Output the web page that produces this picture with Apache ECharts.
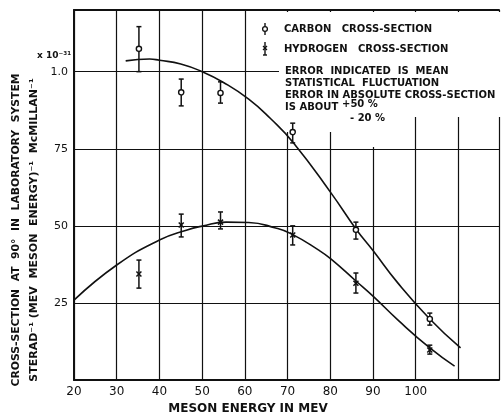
<!DOCTYPE html>
<html>
<head>
<meta charset="utf-8">
<script src="https://cdn.jsdelivr.net/npm/echarts@6/dist/echarts.min.js"></script>
<style>
  html, body { margin: 0; padding: 0; background: #fff; }
  #chart { width: 502px; height: 417px; }
</style>
</head>
<body>
<div id="chart"></div>
<script>
// meson energy (MeV) of the measured points
const energies = [35.2, 45.1, 54.3, 71.2, 86.0, 103.3];

// carbon cross-section (x 10^-31), with error bar ends
const carbonVal = [1.074, 0.933, 0.931, 0.804, 0.487, 0.198];
const carbonLo  = [1.000, 0.889, 0.898, 0.769, 0.457, 0.178];
const carbonHi  = [1.146, 0.976, 0.967, 0.833, 0.512, 0.217];

// hydrogen cross-section
const hydrogenVal = [0.344, 0.503, 0.512, 0.470, 0.314, 0.097];
const hydrogenLo  = [0.298, 0.464, 0.490, 0.438, 0.282, 0.084];
const hydrogenHi  = [0.389, 0.538, 0.545, 0.500, 0.347, 0.113];

// hand drawn curves
const carbonCurve = [
  [32.1, 1.035], [37.7, 1.041], [40, 1.037], [45, 1.025], [50, 1.000],
  [55, 0.965], [60.9, 0.911], [66, 0.848], [71.4, 0.769], [80.2, 0.606],
  [86.0, 0.490], [90, 0.420], [95.8, 0.315], [103.3, 0.198], [110.5, 0.104]
];
const hydrogenCurve = [
  [20, 0.259], [30, 0.373], [40, 0.454], [46.3, 0.486], [50, 0.499],
  [55.6, 0.512], [60.9, 0.511], [67.2, 0.493], [70.9, 0.474], [77.2, 0.422],
  [80.2, 0.392], [86.0, 0.321], [90, 0.272], [95.8, 0.195], [103.3, 0.104],
  [109.1, 0.045]
];

// tick labels
const xTicks = [20, 30, 40, 50, 60, 70, 80, 90, 100];
const yTicks = [0.25, 0.5, 0.75, 1.0];
const yTickLabels = ['25', '50', '75', '1.0'];

const ink = '#111';
const labelFont = 'DejaVu Sans';

function errorBars(marker) {
  return function (params, api) {
    const p = api.coord([api.value(0), api.value(1)]);
    const lo = api.coord([api.value(0), api.value(2)]);
    const hi = api.coord([api.value(0), api.value(3)]);
    const st = { stroke: ink, lineWidth: 1.5, fill: null };
    const kids = [
      { type: 'line', shape: { x1: lo[0], y1: lo[1], x2: hi[0], y2: hi[1] }, style: st },
      { type: 'line', shape: { x1: lo[0] - 2.5, y1: lo[1], x2: lo[0] + 2.5, y2: lo[1] }, style: st },
      { type: 'line', shape: { x1: hi[0] - 2.5, y1: hi[1], x2: hi[0] + 2.5, y2: hi[1] }, style: st }
    ];
    if (marker === 'circle') {
      kids.push({ type: 'circle', shape: { cx: p[0], cy: p[1], r: 2.6 },
        style: { fill: '#fff', stroke: ink, lineWidth: 1.4 } });
    } else {
      kids.push({ type: 'line', shape: { x1: p[0] - 2.5, y1: p[1] - 2.5, x2: p[0] + 2.5, y2: p[1] + 2.5 }, style: st });
      kids.push({ type: 'line', shape: { x1: p[0] - 2.5, y1: p[1] + 2.5, x2: p[0] + 2.5, y2: p[1] - 2.5 }, style: st });
    }
    return { type: 'group', children: kids };
  };
}

const carbonData = energies.map((e, i) => [e, carbonVal[i], carbonLo[i], carbonHi[i]]);
const hydrogenData = energies.map((e, i) => [e, hydrogenVal[i], hydrogenLo[i], hydrogenHi[i]]);

function txt(x, y, text, size, align, rot) {
  return {
    type: 'text', x: x, y: y, z: 20, rotation: rot || 0,
    style: { text: text, fill: ink, font: 'bold ' + size + 'px "' + labelFont + '"',
      textAlign: align || 'left', textVerticalAlign: 'middle' }
  };
}

const chart = echarts.init(document.getElementById('chart'));
chart.setOption({
  animation: false,
  backgroundColor: '#fff',
  grid: { left: 74, right: 0, top: 10, bottom: 37 },
  xAxis: [
    {
      type: 'value', min: 20, max: 119.5, interval: 10,
      axisLine: { lineStyle: { color: ink, width: 2 } },
      axisTick: { show: false },
      splitLine: { lineStyle: { color: ink, width: 1.2 } },
      axisLabel: {
        color: ink, fontSize: 12, fontFamily: labelFont, margin: 6,
        formatter: v => xTicks.indexOf(v) >= 0 ? String(v) : ''
      }
    },
    {
      type: 'value', position: 'top', min: 20, max: 119.5,
      axisLine: { show: true, lineStyle: { color: ink, width: 2 } },
      axisTick: { show: false }, axisLabel: { show: false }, splitLine: { show: false }
    }
  ],
  yAxis: {
    type: 'value', min: 0, max: 1.2, interval: 0.25,
    axisLine: { show: true, lineStyle: { color: ink, width: 2 } },
    axisTick: { show: false },
    splitLine: { lineStyle: { color: ink, width: 1.2 } },
    axisLabel: {
      color: ink, fontSize: 11, fontFamily: labelFont, margin: 6,
      formatter: v => {
        const k = yTicks.findIndex(t => Math.abs(t - v) < 1e-6);
        return k >= 0 ? yTickLabels[k] : '';
      }
    }
  },
  series: [
    {
      name: 'carbon curve', type: 'line', smooth: 0.5, showSymbol: false, z: 3,
      lineStyle: { color: ink, width: 1.6 }, data: carbonCurve
    },
    {
      name: 'hydrogen curve', type: 'line', smooth: 0.5, showSymbol: false, z: 3,
      lineStyle: { color: ink, width: 1.6 }, data: hydrogenCurve
    },
    {
      name: 'CARBON CROSS-SECTION', type: 'custom', z: 5,
      renderItem: errorBars('circle'), encode: { x: 0, y: 1 }, data: carbonData
    },
    {
      name: 'HYDROGEN CROSS-SECTION', type: 'custom', z: 5,
      renderItem: errorBars('cross'), encode: { x: 0, y: 1 }, data: hydrogenData
    }
  ],
  graphic: [
    // blank patch behind the key
    { type: 'rect', z: 1, shape: { x: 279, y: 12, width: 223, height: 105 }, style: { fill: '#fff' } },
    { type: 'rect', z: 1, shape: { x: 279, y: 117, width: 61, height: 15 }, style: { fill: '#fff' } },
    { type: 'rect', z: 1, shape: { x: 369, y: 117, width: 12, height: 30 }, style: { fill: '#fff' } },
    // key symbols
    { type: 'line', z: 20, shape: { x1: 265, y1: 23, x2: 265, y2: 35 }, style: { stroke: ink, lineWidth: 1.4 } },
    { type: 'circle', z: 21, shape: { cx: 265, cy: 29, r: 2.4 }, style: { fill: '#fff', stroke: ink, lineWidth: 1.3 } },
    { type: 'line', z: 20, shape: { x1: 265, y1: 42, x2: 265, y2: 55 }, style: { stroke: ink, lineWidth: 1.4 } },
    { type: 'line', z: 20, shape: { x1: 263, y1: 55, x2: 267, y2: 55 }, style: { stroke: ink, lineWidth: 1.4 } },
    { type: 'line', z: 20, shape: { x1: 263, y1: 46, x2: 267, y2: 50 }, style: { stroke: ink, lineWidth: 1.3 } },
    { type: 'line', z: 20, shape: { x1: 263, y1: 50, x2: 267, y2: 46 }, style: { stroke: ink, lineWidth: 1.3 } },
    txt(284, 29, 'CARBON   CROSS-SECTION', 10),
    txt(284, 49, 'HYDROGEN   CROSS-SECTION', 10),
    txt(285, 71, 'ERROR  INDICATED  IS  MEAN', 10),
    txt(285, 83, 'STATISTICAL  FLUCTUATION', 10),
    txt(285, 95, 'ERROR IN ABSOLUTE CROSS-SECTION', 10),
    txt(285, 107, 'IS ABOUT', 10),
    txt(342, 104, '+50 %', 10),
    txt(350, 118, '- 20 %', 10),
    // scale factor
    txt(37, 56, 'x 10⁻³¹', 9),
    // axis titles
    txt(248, 409, 'MESON ENERGY IN MEV', 12, 'center'),
    txt(16, 230, 'CROSS-SECTION  AT  90°  IN  LABORATORY  SYSTEM', 10.8, 'center', Math.PI / 2),
    txt(34, 230, 'STERAD⁻¹ (MEV  MESON  ENERGY)⁻¹  McMILLAN⁻¹', 11, 'center', Math.PI / 2)
  ]
});
</script>
</body>
</html>
